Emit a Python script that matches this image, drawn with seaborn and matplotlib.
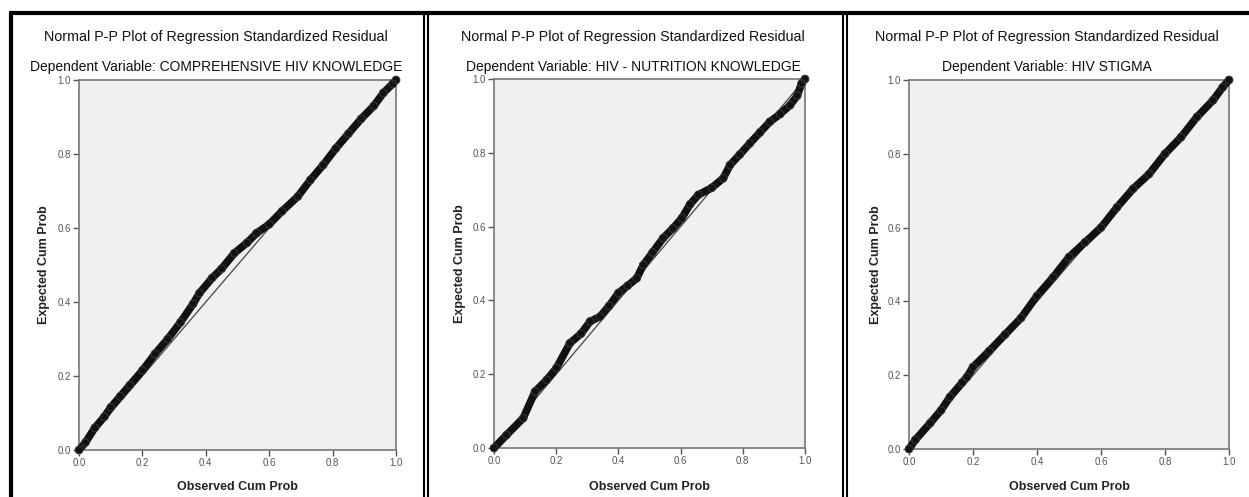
import matplotlib
matplotlib.use("Agg")
import matplotlib.pyplot as plt
from matplotlib.lines import Line2D
import seaborn as sns

sns.set_theme(style="white")
plt.rcParams['font.family'] = ['Liberation Sans', 'DejaVu Sans']

# ---- data ----
title = "Normal P-P Plot of Regression Standardized Residual"
subtitles = ["Dependent Variable: COMPREHENSIVE HIV KNOWLEDGE",
             "Dependent Variable: HIV - NUTRITION KNOWLEDGE",
             "Dependent Variable: HIV STIGMA"]
xlabel = "Observed Cum Prob"
ylabel = "Expected Cum Prob"
tick_vals = [0.0, 0.2, 0.4, 0.6, 0.8, 1.0]
tick_labels = ["0.0", "0.2", "0.4", "0.6", "0.8", "1.0"]

obs1 = [0.00, 0.02, 0.05, 0.08, 0.10, 0.13, 0.16, 0.20, 0.24, 0.28, 0.32, 0.36, 0.38, 0.42,
        0.45, 0.49, 0.53, 0.56, 0.60, 0.64, 0.69, 0.73, 0.77, 0.81, 0.85, 0.89, 0.93, 0.96, 0.99, 1.00]
exp1 = [0.00, 0.02, 0.06, 0.09, 0.115, 0.145, 0.175, 0.215, 0.26, 0.30, 0.345, 0.395, 0.424, 0.465,
        0.49, 0.532, 0.56, 0.586, 0.61, 0.645, 0.685, 0.73, 0.77, 0.815, 0.855, 0.895, 0.93, 0.965, 0.99, 1.00]

obs2 = [0.00, 0.04, 0.094, 0.132, 0.17, 0.201, 0.244, 0.28, 0.309, 0.341, 0.37, 0.40, 0.43, 0.459,
        0.48, 0.51, 0.544, 0.575, 0.604, 0.63, 0.657, 0.70, 0.737, 0.759, 0.79, 0.823, 0.855, 0.887,
        0.92, 0.952, 0.975, 0.989, 1.00]
exp2 = [0.00, 0.035, 0.081, 0.153, 0.185, 0.217, 0.284, 0.31, 0.343, 0.356, 0.385, 0.420, 0.44, 0.460,
        0.496, 0.53, 0.569, 0.595, 0.623, 0.66, 0.686, 0.705, 0.731, 0.767, 0.795, 0.826, 0.855, 0.884,
        0.905, 0.929, 0.955, 0.988, 1.00]

obs3 = [0.00, 0.02, 0.066, 0.10, 0.128, 0.166, 0.181, 0.20, 0.25, 0.30, 0.35, 0.40, 0.45, 0.50,
        0.55, 0.60, 0.65, 0.70, 0.75, 0.80, 0.85, 0.90, 0.95, 0.98, 1.00]
exp3 = [0.00, 0.025, 0.07, 0.105, 0.141, 0.18, 0.195, 0.222, 0.265, 0.31, 0.355, 0.415, 0.465, 0.52,
        0.56, 0.60, 0.655, 0.705, 0.745, 0.80, 0.845, 0.90, 0.945, 0.98, 1.00]

series = [(obs1, exp1), (obs2, exp2), (obs3, exp3)]

# ---- layout (pixels) ----
W, H = 1249, 497
axes_px = [(79, 396, 80, 450), (494, 805, 79, 448), (909, 1229, 80, 449)]
panel_centers = [216, 633, 1047]
ylabel_x = [50, 466, 882]

fig = plt.figure(figsize=(W / 100, H / 100), dpi=100)
fig.patch.set_facecolor("white")

for i, ((l, r, t, b), (ox, ey)) in enumerate(zip(axes_px, series)):
    ax = fig.add_axes([l / W, 1 - b / H, (r - l) / W, (b - t) / H])
    ax.set_facecolor("#f0f0f0")
    ax.axline((0, 0), slope=1, color="#444444", lw=0.9, zorder=2)
    sns.lineplot(x=ox, y=ey, ax=ax, color="#111111", lw=5.5, sort=False,
                 estimator=None, zorder=3, clip_on=False, solid_capstyle="round",
                 solid_joinstyle="round")
    sns.scatterplot(x=ox, y=ey, ax=ax, marker="o", s=30, facecolor="none",
                    edgecolor="#333333", linewidth=0.8, zorder=4, clip_on=False)
    ax.set_xlim(0, 1)
    ax.set_ylim(0, 1)
    ax.set_xticks(tick_vals)
    ax.set_xticklabels(tick_labels)
    ax.set_yticks(tick_vals)
    ax.set_yticklabels(tick_labels)
    ax.tick_params(axis="both", direction="out", length=4, width=1, color="#555555",
                   labelsize=7, labelcolor="#555555", pad=2,
                   bottom=True, left=True)
    for s in ax.spines.values():
        s.set_color("#777777")
        s.set_linewidth(1.2)
    ax.set_xlabel(xlabel, fontsize=9, fontweight="bold", color="#222222")
    ax.set_ylabel(ylabel, fontsize=9, fontweight="bold", color="#222222")
    ax.xaxis.set_label_coords(0.5, -(481 - b) / (b - t))
    ax.yaxis.set_label_coords(-(l - ylabel_x[i]) / (r - l), 0.5)

    fig.text(panel_centers[i] / W, 1 - 37 / H, title, ha="center", va="center",
             fontsize=10.3, color="#111111")
    fig.text(panel_centers[i] / W, 1 - 67 / H, subtitles[i], ha="center", va="center",
             fontsize=10.0, color="#111111")

# ---- frame lines ----
def fline(x0, y0, x1, y1, lw):
    fig.add_artist(Line2D([x0 / W, x1 / W], [1 - y0 / H, 1 - y1 / H],
                          color="black", lw=lw, solid_capstyle="butt"))

fline(9, 13, W, 13, 3.0)        # top bar
fline(11, 11.5, 11, H, 3.0)     # left bar
for x in (424, 428, 843, 847):  # double separators
    fline(x, 13, x, H, 1.5)

fig.savefig("out.png", dpi=100, facecolor="white")
